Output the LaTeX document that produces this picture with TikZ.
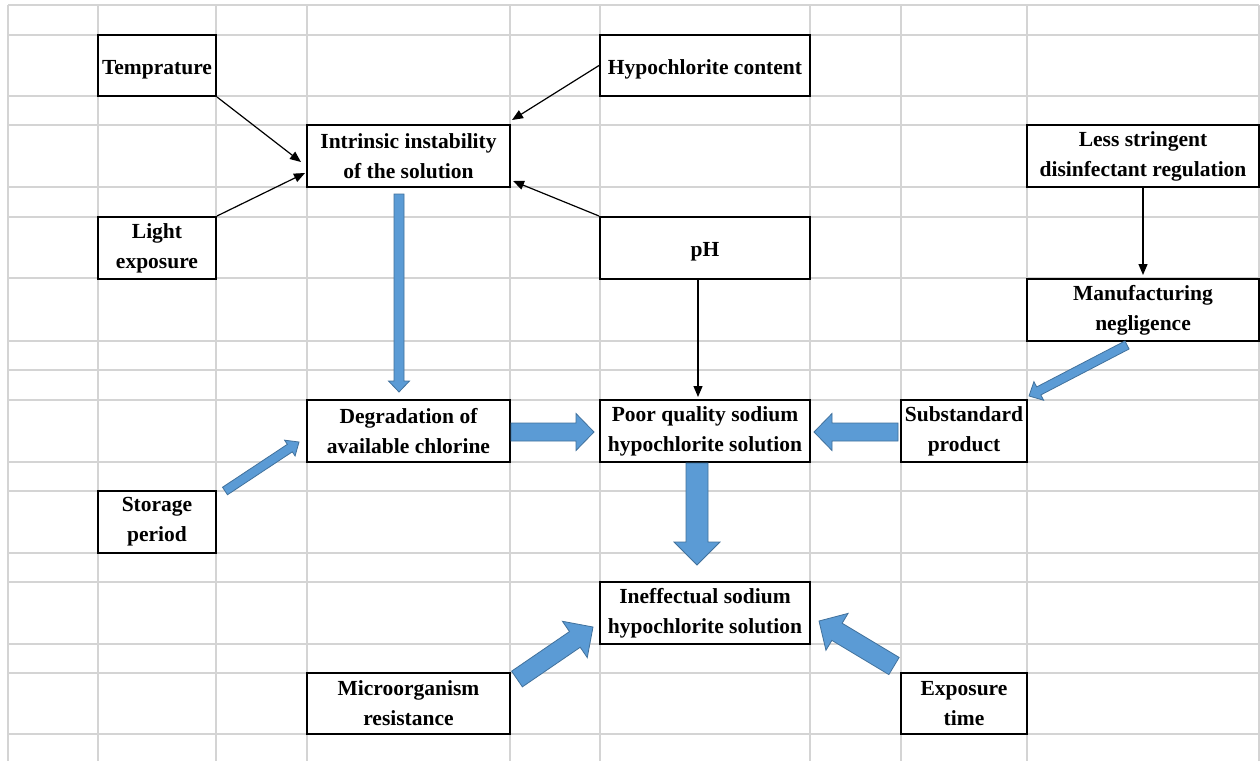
\documentclass[tikz,border=0pt]{standalone}
\usepackage{fontspec}
\setmainfont{Liberation Serif}
\usetikzlibrary{calc,arrows.meta}
\definecolor{gridgray}{HTML}{D4D4D4}
\definecolor{bafill}{HTML}{5B9BD5}
\definecolor{badraw}{HTML}{41719C}
\tikzset{
  box/.style={draw=black, line width=2pt, fill=white, align=center, inner sep=0pt,
    font=\bfseries\fontsize{21.5}{30}\selectfont},
  twoline/.style={execute at begin node={\rule{0pt}{20pt}}},
  oneline/.style={text height=18pt, text depth=1pt},
  linkarrow/.style={draw=black, line width=1.2pt, -{Triangle[length=11pt,width=9pt]}},
  blockarrow/.style={fill=bafill, draw=badraw, line width=0.8pt, line join=miter},
  gridline/.style={draw=gridgray, line width=1.3pt}
}
% #1 tail, #2 tip, #3 shaft half width, #4 head half width, #5 head length
\newcommand{\blockarr}[5]{%
  \filldraw[blockarrow] ($#1!#3!90:#2$) -- ($#2!#5!#1!#3!90:#2$) -- ($#2!#5!#1!#4!90:#2$) -- #2
    -- ($#2!#5!#1!#4!-90:#2$) -- ($#2!#5!#1!#3!-90:#2$) -- ($#1!#3!-90:#2$) -- cycle;}
\begin{document}
\begin{tikzpicture}[x=1pt,y=-1pt]
\fill[white] (0,0) rectangle (1260,761);
\useasboundingbox (0,0) rectangle (1260,761);
% grid
\foreach \x in {8,98,216,307,510,600,810,901,1027,1259}
  \draw[gridline] (\x,5) -- (\x,761);
\foreach \y in {5,35,96,125,187,217,278,341,370,400,462,491,553,582,644,673,734}
  \draw[gridline] (8,\y) -- (1259,\y);
% boxes
\node[box, oneline, minimum width=118pt, minimum height=61pt] (temp) at (157,65.5) {Temprature};
\node[box, oneline, minimum width=210pt, minimum height=61pt] (hypo) at (705,65.5) {Hypochlorite content};
\node[box, twoline, minimum width=203pt, minimum height=62pt] (intr) at (408.5,156) {Intrinsic instability\\of the solution};
\node[box, twoline, minimum width=232pt, minimum height=62pt] (less) at (1143,156) {Less stringent\\disinfectant regulation};
\node[box, twoline, minimum width=118pt, minimum height=62pt] (light) at (157,248) {Light\\exposure};
\node[box, oneline, minimum width=210pt, minimum height=62pt] (ph) at (705,248) {pH};
\node[box, twoline, minimum width=232pt, minimum height=62pt] (manuf) at (1143,310) {Manufacturing\\negligence};
\node[box, twoline, minimum width=203pt, minimum height=62pt] (degr) at (408.5,431) {Degradation of\\available chlorine};
\node[box, twoline, minimum width=210pt, minimum height=62pt] (poor) at (705,431) {Poor quality sodium\\hypochlorite solution};
\node[box, twoline, minimum width=126pt, minimum height=62pt] (subst) at (964,431) {Substandard\\product};
\node[box, twoline, minimum width=118pt, minimum height=62pt] (stor) at (157,522) {Storage\\period};
\node[box, twoline, minimum width=210pt, minimum height=62pt] (ineff) at (705,613) {Ineffectual sodium\\hypochlorite solution};
\node[box, twoline, minimum width=203pt, minimum height=61pt] (micro) at (408.5,703.5) {Microorganism\\resistance};
\node[box, twoline, minimum width=126pt, minimum height=61pt] (expo) at (964,703.5) {Exposure\\time};
% thin arrows
\draw[linkarrow] (temp.south east) -- ($(intr.west)+(-5,6)$);
\draw[linkarrow] (light.north east) -- ($(intr.west)+(-1,17)$);
\draw[linkarrow] (hypo.west) -- ($(intr.north east)+(1,-4)$);
\draw[linkarrow] (ph.north west) -- ($(intr.south east)+(2,-7)$);
\draw[linkarrow] ($(ph.south)+(-7,0)$) -- ($(poor.north)+(-7,-2)$);
\draw[linkarrow] (less.south) -- ($(manuf.north)+(0,-3)$);
% block arrow end points
\coordinate (a1s) at ($(intr.south)+(-9.5,6)$);
\coordinate (a1e) at ($(degr.north)+(-9.5,-7)$);
\coordinate (a2s) at ($(degr.east)+(0,1)$);
\coordinate (a2e) at ($(poor.west)+(-5,1)$);
\coordinate (a3s) at ($(subst.west)+(-2,1)$);
\coordinate (a3e) at ($(poor.east)+(3,1)$);
\coordinate (a4s) at ($(poor.south)+(-8,0)$);
\coordinate (a4e) at ($(ineff.north)+(-8,-16)$);
\coordinate (a5s) at ($(manuf.south)+(-16,3)$);
\coordinate (a5e) at ($(subst.north east)+(1,-3)$);
\coordinate (a6s) at ($(stor.north east)+(8,1)$);
\coordinate (a6e) at ($(degr.west)+(-7,11)$);
\coordinate (a7s) at ($(micro.north east)+(6,7)$);
\coordinate (a7e) at ($(ineff.west)+(-6,14)$);
\coordinate (a8s) at ($(expo.north west)+(-6,-6)$);
\coordinate (a8e) at ($(ineff.east)+(8,8)$);
% block arrows
\blockarr{(a1s)}{(a1e)}{5pt}{10.5pt}{11pt}
\blockarr{(a2s)}{(a2e)}{9pt}{18.5pt}{18pt}
\blockarr{(a3s)}{(a3e)}{9pt}{18.5pt}{18pt}
\blockarr{(a4s)}{(a4e)}{11pt}{23pt}{23pt}
\blockarr{(a5s)}{(a5e)}{4.5pt}{10.5pt}{11pt}
\blockarr{(a6s)}{(a6e)}{4.5pt}{9.5pt}{11pt}
\blockarr{(a7s)}{(a7e)}{9.5pt}{22pt}{22pt}
\blockarr{(a8s)}{(a8e)}{10pt}{21.5pt}{21pt}
\end{tikzpicture}
\end{document}
